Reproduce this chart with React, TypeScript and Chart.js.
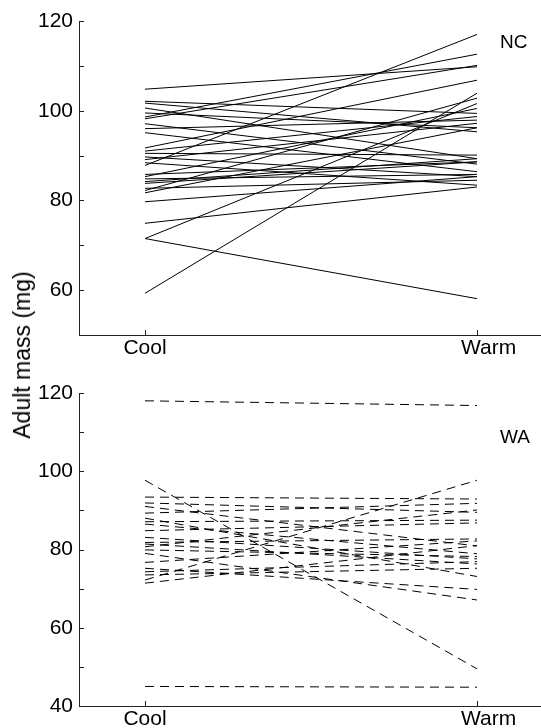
import React, { useEffect, useRef } from "react";
import { Chart, registerables } from "chart.js";

Chart.register(...registerables);

// ---------- data ----------
const conditions = ["Cool", "Warm"];
const conditionValues = [1, 2];

// NC population (solid lines): mass at Cool and at Warm for each family
const ncCool = [104.8, 102.1, 101.7, 100.6, 99.5, 98.6, 98.2, 97.1, 96.0, 95.1, 91.7, 91.0, 90.5, 89.7, 89.1, 88.4, 87.8, 85.8, 85.3, 84.8, 84.2, 83.8, 82.7, 82.2, 81.7, 79.7, 74.9, 71.5, 71.5, 59.3];
const ncWarm = [109.8, 99.4, 95.3, 89.3, 96.2, 112.6, 110.1, 88.1, 97.9, 86.4, 106.8, 98.7, 90.1, 85.3, 97.2, 83.4, 117.0, 88.6, 100.5, 85.8, 89.3, 88.6, 84.5, 102.8, 96.2, 85.3, 83.0, 58.1, 101.6, 103.9];

// WA population (dashed lines)
const waCool = [118.0, 45.0, 97.7, 72.2, 93.4, 91.9, 91.0, 89.3, 88.0, 87.1, 86.5, 84.8, 83.1, 81.8, 81.4, 80.7, 79.9, 79.0, 76.7, 75.2, 74.3, 73.5, 71.4];
const waWarm = [116.8, 44.8, 49.5, 97.7, 92.9, 89.5, 80.9, 91.8, 73.1, 87.5, 78.9, 86.8, 77.6, 82.7, 76.3, 90.1, 78.2, 67.1, 82.2, 69.8, 76.9, 75.2, 81.0];

const topYMin = 50;
const topYMax = 120;
const bottomYMin = 40;
const bottomYMax = 120;
const yStep = 10;
const labelEvery = 20;

const panelLabels = ["NC", "WA"];
const yTitle = "Adult mass (mg)";

// ---------- style ----------
const FONT = "'Liberation Sans', Arial, Helvetica, sans-serif";
const AXIS = "#222";
const W = 541;

const inwardTicks = {
  id: "inwardTicks",
  afterDraw(chart: any) {
    const { ctx, chartArea, scales } = chart;
    ctx.save();
    ctx.strokeStyle = AXIS;
    ctx.lineWidth = 1;
    scales.y.ticks.forEach((t: any) => {
      const y = Math.round(scales.y.getPixelForValue(t.value)) + 0.5;
      ctx.beginPath();
      ctx.moveTo(chartArea.left, y);
      ctx.lineTo(chartArea.left + 5, y);
      ctx.stroke();
    });
    scales.x.ticks.forEach((t: any) => {
      const x = Math.round(scales.x.getPixelForValue(t.value)) + 0.5;
      ctx.beginPath();
      ctx.moveTo(x, chartArea.bottom);
      ctx.lineTo(x, chartArea.bottom - 5);
      ctx.stroke();
    });
    ctx.restore();
  },
};

function makeConfig(cool: number[], warm: number[], dashed: boolean, ymin: number, ymax: number, padTop: number, xHeight: number) {
  const datasets = cool.map((c, i) => ({
    data: [
      { x: conditionValues[0], y: c },
      { x: conditionValues[1], y: warm[i] },
    ],
    showLine: true,
    borderColor: "#000",
    borderWidth: 1,
    borderDash: dashed ? [9, 6] : [],
    pointRadius: 0,
    fill: false,
  }));
  return {
    type: "scatter" as const,
    data: { datasets },
    options: {
      animation: false,
      responsive: false,
      devicePixelRatio: 1,
      layout: { padding: { top: padTop, right: 0, bottom: 0, left: 0 } },
      plugins: { legend: { display: false }, tooltip: { enabled: false } },
      scales: {
        x: {
          type: "linear",
          min: 0.8012,
          max: 2.1928,
          grid: { display: false, drawTicks: false },
          border: { display: true, color: AXIS, width: 1 },
          afterBuildTicks: (scale: any) => {
            scale.ticks = conditionValues.map((v) => ({ value: v }));
          },
          afterFit: (scale: any) => {
            scale.height = xHeight;
          },
          ticks: {
            padding: 1,
            color: "#000",
            font: { family: FONT, size: 21 },
            maxRotation: 0,
            autoSkip: false,
            callback: (v: number) => {
              const idx = conditionValues.indexOf(v);
              if (idx < 0) return "";
              return idx === 1 ? "    " + conditions[idx] : conditions[idx];
            },
          },
        },
        y: {
          type: "linear",
          min: ymin,
          max: ymax,
          grid: { display: false, drawTicks: false },
          border: { display: true, color: AXIS, width: 1 },
          afterFit: (scale: any) => {
            scale.width = 79;
          },
          ticks: {
            stepSize: yStep,
            padding: 6,
            color: "#000",
            font: { family: FONT, size: 21 },
            callback: (v: number) => (v % labelEvery === 0 ? String(v) : ""),
          },
        },
      },
    },
    plugins: [inwardTicks],
  };
}

function Panel({ cool, warm, dashed, ymin, ymax, top, height, padTop, xHeight }: any) {
  const ref = useRef<HTMLCanvasElement | null>(null);
  useEffect(() => {
    if (!ref.current) return;
    const chart = new Chart(ref.current, makeConfig(cool, warm, dashed, ymin, ymax, padTop, xHeight) as any);
    return () => chart.destroy();
  }, []);
  return (
    <canvas
      ref={ref}
      width={W}
      height={height}
      style={{ position: "absolute", left: 0, top, width: W, height, display: "block" }}
    />
  );
}

export default function App() {
  const textStyle: React.CSSProperties = {
    position: "absolute",
    fontFamily: FONT,
    fontSize: 19,
    lineHeight: "20px",
    color: "#000",
    whiteSpace: "nowrap",
  };
  return (
    <div style={{ position: "absolute", left: 0, top: 0, width: W, height: 728, background: "#fff", overflow: "hidden" }}>
      <Panel cool={ncCool} warm={ncWarm} dashed={false} ymin={topYMin} ymax={topYMax} top={0} height={362} padTop={21} xHeight={27} />
      <Panel cool={waCool} warm={waWarm} dashed={true} ymin={bottomYMin} ymax={bottomYMax} top={370} height={358} padTop={23} xHeight={22} />
      <div style={{ ...textStyle, left: 500, top: 32 }}>{panelLabels[0]}</div>
      <div style={{ ...textStyle, left: 500, top: 427 }}>{panelLabels[1]}</div>
      <div
        style={{
          ...textStyle,
          fontSize: 23,
          lineHeight: "24px",
          left: 22,
          top: 355,
          transform: "translate(-50%, -50%) rotate(-90deg)",
        }}
      >
        {yTitle}
      </div>
    </div>
  );
}
